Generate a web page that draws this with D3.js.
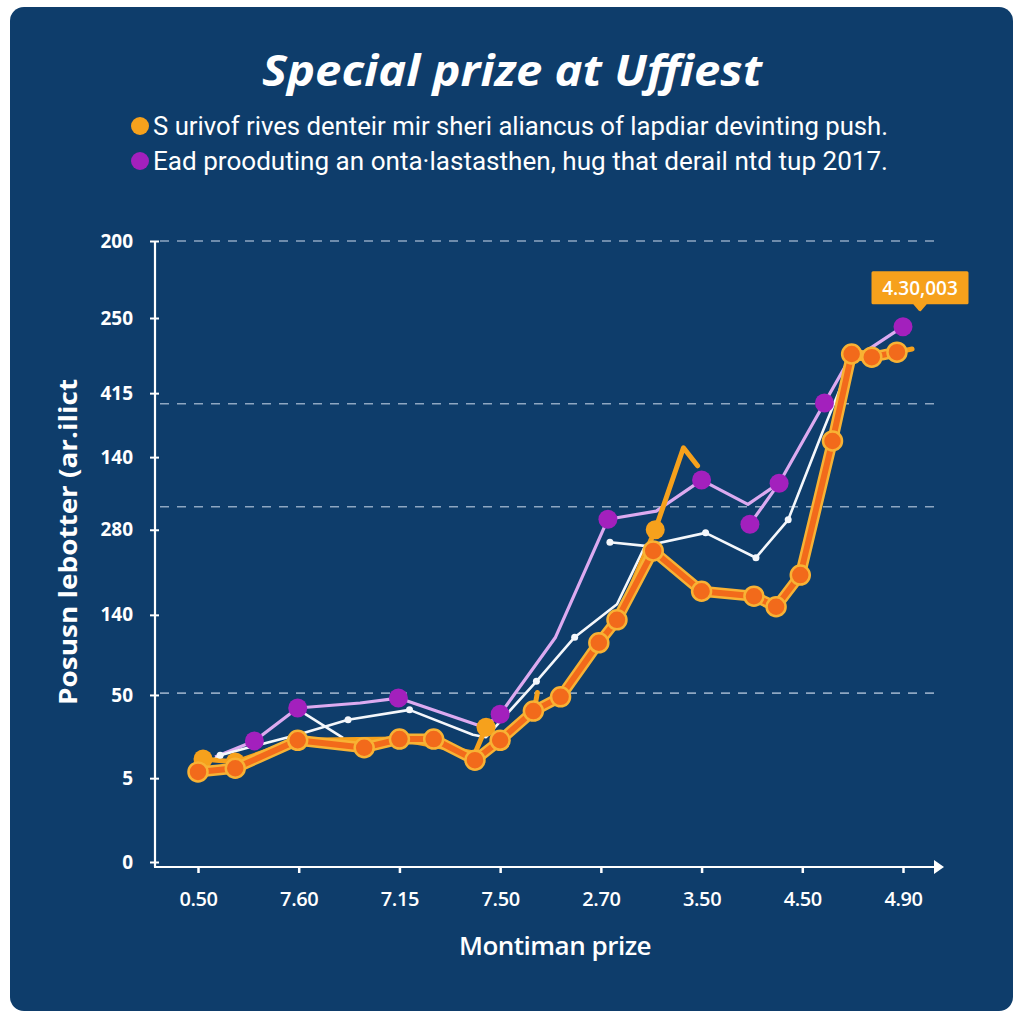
<!DOCTYPE html>
<html><head><meta charset="utf-8">
<script src="https://cdn.jsdelivr.net/npm/d3@7"></script>
<style>body{margin:0;background:#fff}svg{display:block}</style>
</head><body>
<svg id="chart" width="1024" height="1024"></svg>
<script>
// ---- data ----
const titleText = "Special prize at Uffiest";
const legendLabels = [
  "S urivof rives denteir mir sheri aliancus of lapdiar devinting push.",
  "Ead prooduting an onta·lastasthen, hug that derail ntd tup 2017."
];
const xTickLabels = ["0.50","7.60","7.15","7.50","2.70","3.50","4.50","4.90"];
const yTickValues = [100, 87.6, 75.5, 65.2, 53.5, 39.8, 26.9, 13.5, 0];
const yTickLabels = ["200","250","415","140","280","140","50","5","0"];
const gridValues = [100, 73.8, 57.2, 27.2];
const xTitle = "Montiman prize";
const yTitle = "Posusn lebotter (ar.ilict";
const annotationText = "4.30,003";

// orange main series [x position, value]
const orangeSeries = [[0.0,14.5],[0.37,15.1],[0.99,19.6],[1.65,18.4],[2.0,19.8],[2.34,19.8],[2.75,16.4],[3.0,19.6],[3.33,24.3],[3.6,26.6],[3.98,35.3],[4.16,39.0],[4.52,50.1],[5.0,43.6],[5.52,42.8],[5.74,41.1],[5.98,46.2],[6.3,67.8],[6.49,81.8],[6.69,81.3],[6.94,82.1]];
const orangeTail = [[6.94,82.1],[7.09,82.6]];
// amber secondary series (null = gap)
const amberSeries = [[0.05,16.6],[0.37,16.1],[0.99,19.6],[2.0,19.8],[2.75,17.5],[2.86,21.7],null,[3.35,25.5],[3.37,27.3],null,[4.16,39.0],[4.54,53.5],[4.82,66.7],[4.96,63.8]];
const amberDots = [[0.05,16.6],[0.37,16.1],[2.86,21.7],[4.54,53.5]];
// purple series
const purpleLine = [[0.17,16.9],[0.56,19.5],[0.99,24.8],[1.61,25.6],[1.99,26.4],[2.84,21.7],[3.0,23.8],[3.55,36.2],[4.07,55.2],[4.55,56.5],[5.0,61.5],[5.46,57.6],[5.77,61.0],[5.48,54.4],[5.77,61.0],[6.22,73.9],[6.44,80.2],[7.0,86.2]];
const purpleDots = [[0.56,19.5],[0.99,24.8],[1.99,26.4],[3.0,23.8],[4.07,55.2],[5.0,61.5],[5.48,54.4],[5.77,61.0],[6.22,73.9],[7.0,86.2]];
// white series
const whiteLine = [[0.15,16.4],[0.22,17.2],[0.52,18.5],[0.99,20.5],[1.49,22.9],[2.1,24.5],[2.73,20.5],[2.86,20.1],[3.36,29.1],[3.74,36.2],[4.16,41.5],[4.44,50.9],[4.09,51.5],[4.44,50.9],[5.04,53.0],[5.54,49.0],[5.86,55.1],[6.2,69.2],[6.49,80.8]];
const whiteStub = [[1.0,24.5],[1.44,20.0]];
const whiteDots = [[0.22,17.2],[1.49,22.9],[2.1,24.5],[3.36,29.1],[3.74,36.2],[4.09,51.5],[5.04,53.0],[5.54,49.0],[5.86,55.1]];
const annotationPoint = [7.0, 86.2];

// ---- drawing ----
const svg = d3.select("#chart");
const C = {bg:"#0e3d6b", orange:"#f26a1b", orangeEdge:"#f8b234", amber:"#f6a11c", purple:"#a320bd", lav:"#dcaaf0", white:"#f4f7fb", grid:"#8ea7c2"};
const FONT = "'Open Sans', 'Noto Sans', sans-serif";

svg.append("rect").attr("x",10).attr("y",7).attr("width",1003).attr("height",1004).attr("rx",14).attr("fill",C.bg);

const x = d3.scaleLinear().domain([0,7]).range([198,903]);
const y = d3.scaleLinear().domain([0,100]).range([862,241]);

// title
svg.append("text").attr("x",512).attr("y",86).attr("text-anchor","middle")
  .attr("font-family",FONT).attr("font-weight",700).attr("font-style","italic")
  .attr("font-size",43).attr("fill","#fff").attr("textLength",500).attr("lengthAdjust","spacingAndGlyphs")
  .text(titleText);

// legend
const legendColors = [C.amber, C.purple];
legendLabels.forEach((t,i)=>{
  const ly = 126 + i*35;
  svg.append("circle").attr("cx",140).attr("cy",ly).attr("r",9).attr("fill",legendColors[i]);
  svg.append("text").attr("x",153).attr("y",ly+9).attr("font-family","Roboto, sans-serif")
    .attr("font-size",26).attr("fill","#fff").attr("textLength",735).attr("lengthAdjust","spacingAndGlyphs").text(t);
});

// grid
svg.append("g").selectAll("line").data(gridValues).join("line")
  .attr("x1",160).attr("x2",935).attr("y1",d=>y(d)).attr("y2",d=>y(d))
  .attr("stroke",C.grid).attr("stroke-width",1.6).attr("stroke-dasharray","9,8");

// y axis
const yAxis = svg.append("g").attr("transform","translate(155,0)")
  .call(d3.axisLeft(y).tickValues(yTickValues).tickFormat((d,i)=>yTickLabels[i]).tickSize(5).tickSizeOuter(0).tickPadding(17));
yAxis.select(".domain").attr("stroke","#fff").attr("stroke-width",2.2).attr("d","M0,241V867");
yAxis.selectAll(".tick line").attr("stroke","#fff").attr("stroke-width",2).attr("x2",-5).attr("x1",4);
yAxis.selectAll(".tick text").attr("fill","#fff").attr("font-family",FONT).attr("font-weight",700).attr("font-size",19);

// x axis
const xAxis = svg.append("g").attr("transform","translate(0,867)")
  .call(d3.axisBottom(x).tickValues(d3.range(8)).tickFormat(i=>xTickLabels[i]).tickSize(6).tickSizeOuter(0).tickPadding(19));
xAxis.select(".domain").attr("stroke","#fff").attr("stroke-width",2.2).attr("d","M154,0H936");
xAxis.selectAll(".tick line").attr("stroke","#fff").attr("stroke-width",2.5);
xAxis.selectAll(".tick text").attr("fill","#fff").attr("font-family",FONT).attr("font-weight",600).attr("font-size",20).attr("letter-spacing",-0.4);
svg.append("path").attr("d","M934,860L944,867L934,874Z").attr("fill","#fff");

// axis titles
svg.append("text").attr("x",555).attr("y",955).attr("text-anchor","middle").attr("font-family",FONT)
  .attr("font-weight",600).attr("font-size",26).attr("fill","#fff").attr("letter-spacing",-0.5).text(xTitle);
svg.append("text").attr("transform","translate(77,542) rotate(-90)").attr("text-anchor","middle").attr("font-family",FONT)
  .attr("font-weight",700).attr("font-size",25).attr("fill","#fff").attr("textLength",326).attr("lengthAdjust","spacingAndGlyphs").text(yTitle);

const line = d3.line().defined(d=>d!==null).x(d=>x(d[0])).y(d=>y(d[1]));

// lavender line
svg.append("path").attr("d",line(purpleLine)).attr("fill","none").attr("stroke",C.lav).attr("stroke-width",3.2).attr("stroke-linejoin","round");
// white lines
svg.append("path").attr("d",line(whiteLine)).attr("fill","none").attr("stroke",C.white).attr("stroke-width",2.6).attr("stroke-linejoin","round");
svg.append("path").attr("d",line(whiteStub)).attr("fill","none").attr("stroke",C.white).attr("stroke-width",2.6);
// amber
svg.append("path").attr("d",line(amberSeries)).attr("fill","none").attr("stroke",C.amber).attr("stroke-width",5).attr("stroke-linecap","round").attr("stroke-linejoin","round");
svg.append("g").selectAll("circle").data(amberDots).join("circle")
  .attr("cx",d=>x(d[0])).attr("cy",d=>y(d[1])).attr("r",9.5).attr("fill",C.amber);
// orange main
svg.append("path").attr("d",line(orangeTail)).attr("fill","none").attr("stroke",C.amber).attr("stroke-width",5).attr("stroke-linecap","round");
svg.append("path").attr("d",line(orangeSeries)).attr("fill","none").attr("stroke",C.orangeEdge).attr("stroke-width",11).attr("stroke-linejoin","round");
svg.append("path").attr("d",line(orangeSeries)).attr("fill","none").attr("stroke",C.orange).attr("stroke-width",6).attr("stroke-linejoin","round");
svg.append("g").selectAll("circle").data(orangeSeries).join("circle")
  .attr("cx",d=>x(d[0])).attr("cy",d=>y(d[1])).attr("r",9.5).attr("fill",C.orange).attr("stroke",C.orangeEdge).attr("stroke-width",2.5);
// purple dots
svg.append("g").selectAll("circle").data(purpleDots).join("circle")
  .attr("cx",d=>x(d[0])).attr("cy",d=>y(d[1])).attr("r",9.5).attr("fill",C.purple);
// white dots
svg.append("g").selectAll("circle").data(whiteDots).join("circle")
  .attr("cx",d=>x(d[0])).attr("cy",d=>y(d[1])).attr("r",3.5).attr("fill",C.white);

// annotation
const ax = x(annotationPoint[0]) + 17, ay = y(annotationPoint[1]) - 22;
const ag = svg.append("g");
ag.append("path").attr("d",`M${ax-47},${ay-32}h94v30h-41l-6,7l-6,-7h-41Z`).attr("fill",C.amber).attr("stroke",C.amber).attr("stroke-linejoin","round").attr("stroke-width",3);
ag.append("text").attr("x",ax).attr("y",ay-10).attr("text-anchor","middle").attr("font-family",FONT)
  .attr("font-weight",600).attr("font-size",19).attr("fill","#fff").text(annotationText);
</script>
</body></html>
